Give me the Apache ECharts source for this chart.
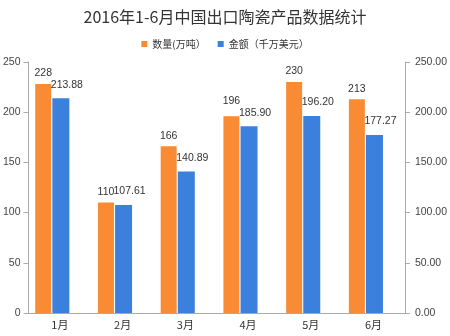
<!DOCTYPE html>
<html><head><meta charset="utf-8">
<script src="https://cdn.jsdelivr.net/npm/echarts@6/dist/echarts.min.js"></script>
<style>html,body{margin:0;padding:0;background:#fff}#c{width:450px;height:336px}</style>
</head><body><div id="c"></div>
<script>
var categories = ['1月','2月','3月','4月','5月','6月'];
var quantity = [228, 110, 166, 196, 230, 213];
var amount = [213.88, 107.61, 140.89, 185.90, 196.20, 177.27];
var leftTicks = [0, 50, 100, 150, 200, 250];
var seriesNames = ['数量(万吨）', '金额（千万美元）'];
var titleText = '2016年1-6月中国出口陶瓷产品数据统计';

var NUM_FONT = '"Liberation Sans", Arial, sans-serif';
var LABEL_FONT = 10.5, LABEL_DIST = 5, BLUE_OFF = [6, -3], ORANGE_OFF = [-1, 0], BLUE_W = 17;
var measureCtx = document.createElement('canvas').getContext('2d');
measureCtx.font = LABEL_FONT + 'px ' + NUM_FONT;

// Raise an orange label when it collides with the staggered blue label beside it
function orangeLabelLayout(p) {
  var i = p.dataIndex, r = p.rect, lr = p.labelRect;
  if (!r || !r.height) return {};
  var pxPerUnit = r.height / quantity[i];
  var bottom = r.y + r.height;
  var blueTop = bottom - amount[i] * pxPerUnit;
  var bBottom = blueTop - LABEL_DIST + BLUE_OFF[1];
  var bTop = bBottom - lr.height;
  var txt = amount[i].toFixed(2);
  var bw = measureCtx.measureText(txt).width;
  var bCx = r.x + r.width + 1 + BLUE_W / 2 + BLUE_OFF[0];
  var bLeft = bCx - bw / 2;
  var oBottom = lr.y + lr.height;
  var vOverlap = oBottom - bTop;
  var hOverlap = (lr.x + lr.width) - bLeft;
  if (bBottom - oBottom > 3 && vOverlap > 0 && hOverlap > -2) {
    return {dy: bTop - 1 - oBottom};
  }
  return {};
}

var chart = echarts.init(document.getElementById('c'));
var font = '"Microsoft YaHei","Noto Sans CJK SC",sans-serif';
chart.setOption({
  animation: false,
  title: {text: titleText, left: 'center', top: 4,
    textStyle: {fontSize: 16, fontWeight: 'normal', color: '#333', fontFamily: font}},
  legend: {top: 34, left: 'center', itemWidth: 6, itemHeight: 6, itemGap: 12,
    icon: 'rect', textStyle: {fontSize: 10, color: '#333', fontFamily: font},
    data: seriesNames},
  grid: {left: 27, right: 39, top: 62, bottom: 23},
  xAxis: {type: 'category', data: categories,
    axisLine: {lineStyle: {color: '#aaa'}},
    axisTick: {lineStyle: {color: '#aaa'}},
    axisLabel: {fontSize: 11, color: '#333', margin: 6, fontFamily: font}},
  yAxis: [
    {type: 'value', min: leftTicks[0], max: leftTicks[leftTicks.length-1], interval: 50,
     axisLine: {show: true, lineStyle: {color: '#aaa'}},
     axisTick: {show: true, lineStyle: {color: '#aaa'}},
     splitLine: {show: false},
     axisLabel: {fontSize: 10.5, color: '#444', margin: 8, fontFamily: NUM_FONT}},
    {type: 'value', min: 0, max: 250, interval: 50, position: 'right',
     axisLine: {show: true, lineStyle: {color: '#aaa'}},
     axisTick: {show: true, lineStyle: {color: '#aaa'}},
     splitLine: {show: false},
     axisLabel: {fontSize: 10.5, color: '#444', margin: 10, fontFamily: NUM_FONT,
       formatter: function(v){return v.toFixed(2);}}}
  ],
  series: [
    {name: seriesNames[0], type: 'bar', data: quantity, barWidth: 16, barGap: '7%',
     itemStyle: {color: '#F98B35'},
     label: {show: true, position: 'top', fontSize: LABEL_FONT, fontFamily: NUM_FONT, color: '#333', distance: LABEL_DIST, offset: ORANGE_OFF},
     labelLayout: orangeLabelLayout},
    {name: seriesNames[1], type: 'bar', yAxisIndex: 1, data: amount, barWidth: BLUE_W,
     itemStyle: {color: '#3A80DC'},
     label: {show: true, position: 'top', fontSize: LABEL_FONT, fontFamily: NUM_FONT, color: '#333', distance: LABEL_DIST, offset: BLUE_OFF,
       formatter: function(p){return p.value.toFixed(2);}}},
    {name: 'spacer', type: 'bar', data: categories.map(function(){return '-';}), barWidth: 14,
     silent: true, itemStyle: {color: 'transparent'}}
  ]
});
</script></body></html>
